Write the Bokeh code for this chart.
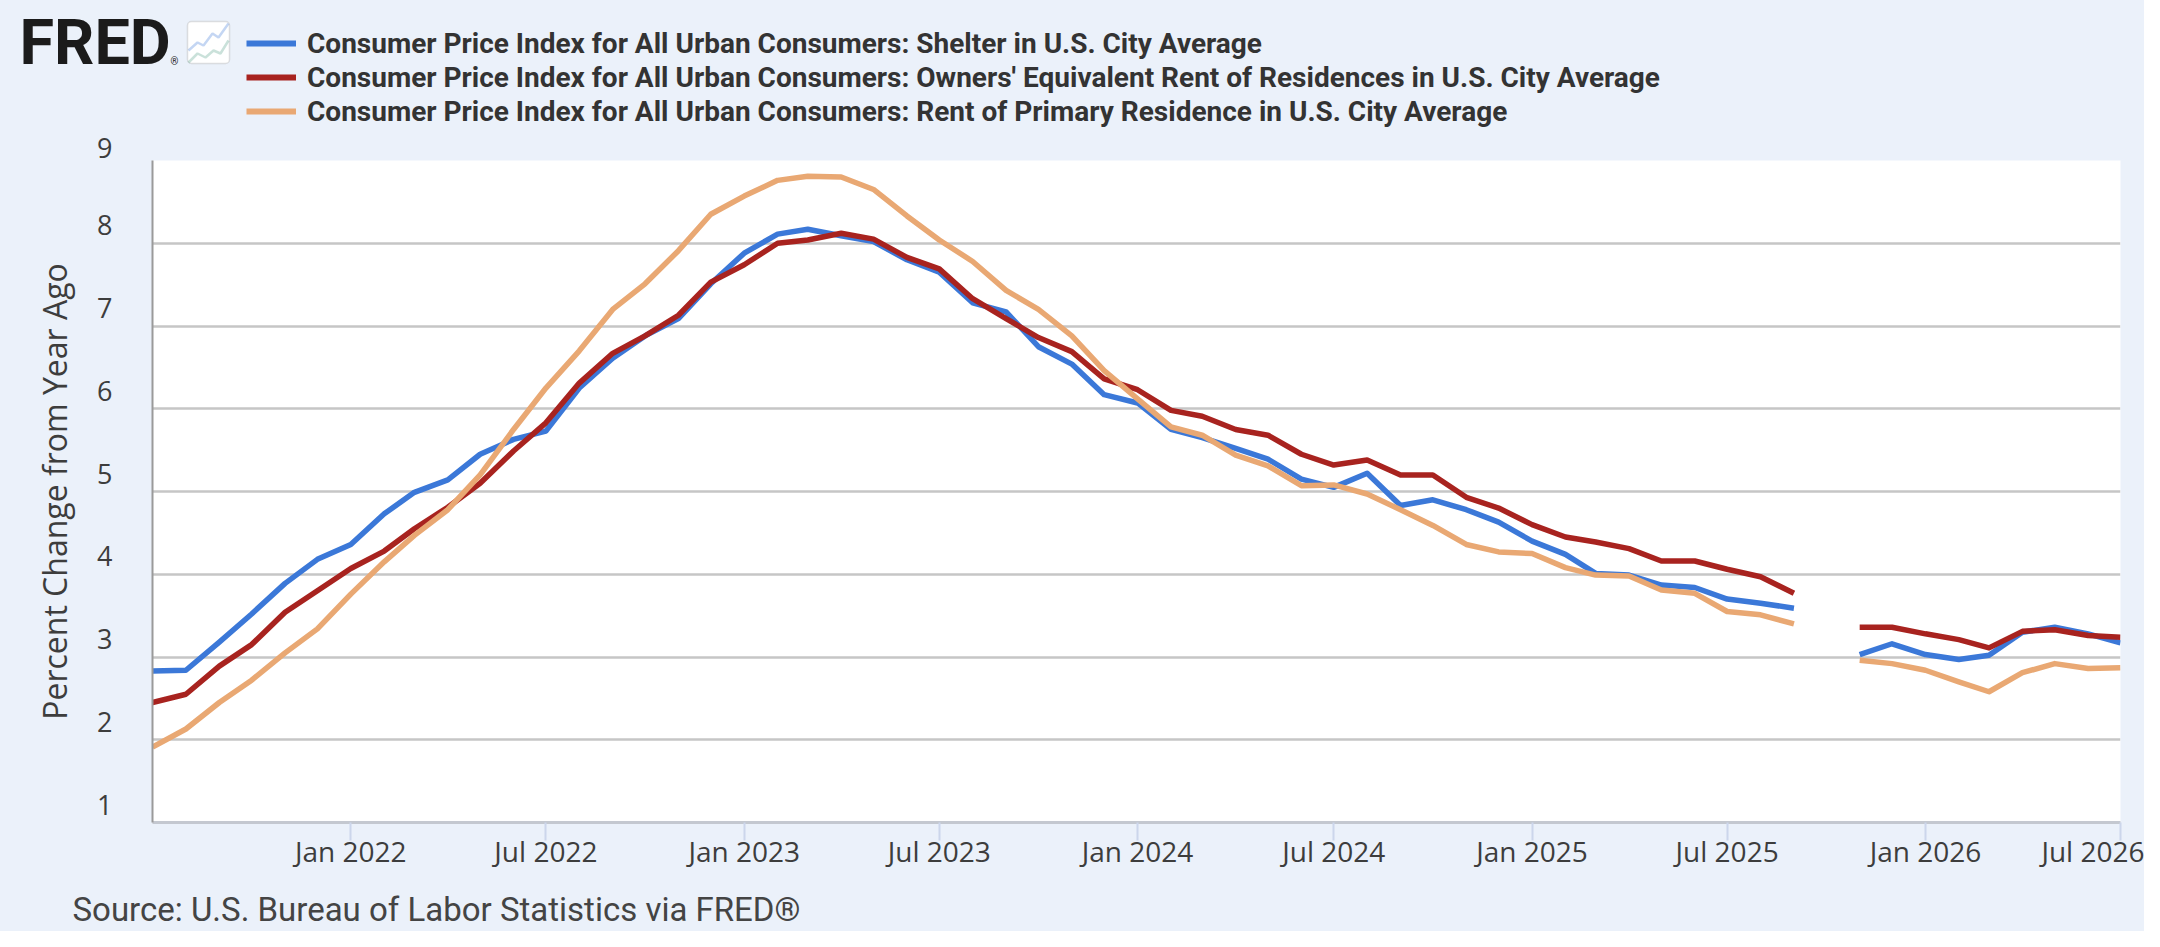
import numpy as np
import pandas as pd
from bokeh.plotting import figure
from bokeh.layouts import column
from bokeh.models import (Range1d, FixedTicker, DatetimeTickFormatter, PrintfTickFormatter,
                          Legend, LegendItem, Label, BoxAnnotation, PolyAnnotation)
from bokeh.embed import file_html
from bokeh.resources import INLINE

# monthly observations, Jul 2021 .. Jul 2026 (Oct 2025 not published -> gap)
months = pd.date_range("2021-07-01", "2026-07-01", freq="MS")
nan = np.nan

shelter = [2.83, 2.84, 3.18, 3.52, 3.89, 4.18, 4.36, 4.73, 4.99, 5.14, 5.45, 5.63,
           5.73, 6.25, 6.61, 6.88, 7.09, 7.51, 7.88, 8.11, 8.17, 8.09, 8.02, 7.80,
           7.65, 7.28, 7.17, 6.75, 6.54, 6.17, 6.07, 5.75, 5.65, 5.52, 5.39, 5.15,
           5.05, 5.22, 4.83, 4.90, 4.78, 4.63, 4.40, 4.24, 4.01, 3.99, 3.87, 3.84,
           3.70, 3.65, 3.59, nan, 3.03, 3.16, 3.03, 2.97, 3.02, 3.30, 3.36, 3.28,
           3.17]
oer = [2.45, 2.55, 2.89, 3.15, 3.54, 3.80, 4.07, 4.28, 4.55, 4.81, 5.10, 5.49,
       5.83, 6.31, 6.67, 6.88, 7.13, 7.53, 7.74, 8.00, 8.04, 8.12, 8.05, 7.83,
       7.69, 7.33, 7.09, 6.86, 6.69, 6.36, 6.23, 5.98, 5.91, 5.75, 5.68, 5.45,
       5.32, 5.38, 5.20, 5.20, 4.93, 4.80, 4.60, 4.45, 4.39, 4.31, 4.16, 4.16,
       4.06, 3.97, 3.77, nan, 3.36, 3.36, 3.28, 3.21, 3.11, 3.31, 3.33, 3.26,
       3.24]
rent = [1.91, 2.13, 2.45, 2.72, 3.05, 3.34, 3.76, 4.15, 4.47, 4.78, 5.20, 5.75,
        6.25, 6.70, 7.20, 7.51, 7.91, 8.35, 8.57, 8.76, 8.81, 8.80, 8.65, 8.33,
        8.04, 7.78, 7.43, 7.20, 6.88, 6.46, 6.12, 5.78, 5.68, 5.44, 5.31, 5.07,
        5.08, 4.97, 4.78, 4.59, 4.36, 4.27, 4.25, 4.08, 3.99, 3.98, 3.81, 3.77,
        3.55, 3.51, 3.40, nan, 2.96, 2.92, 2.84, 2.70, 2.58, 2.81, 2.92, 2.86,
        2.87]

series_names = [
    "Consumer Price Index for All Urban Consumers: Shelter in U.S. City Average",
    "Consumer Price Index for All Urban Consumers: Owners' Equivalent Rent of Residences in U.S. City Average",
    "Consumer Price Index for All Urban Consumers: Rent of Primary Residence in U.S. City Average",
]
series_colors = ["#3b78d8", "#a8231f", "#e9a873"]
series_values = [shelter, oer, rent]

tick_dates = ["2022-01-01", "2022-07-01", "2023-01-01", "2023-07-01", "2024-01-01",
              "2024-07-01", "2025-01-01", "2025-07-01", "2026-01-01", "2026-07-01"]
y_ticks = [1, 2, 3, 4, 5, 6, 7, 8, 9]

BG = "#ebf1fa"
W = 2144


def blank(h):
    # a plain strip whose frame is the whole canvas (pixel-like units)
    f = figure(width=W, height=h, x_range=Range1d(0, W), y_range=Range1d(0, h),
               x_axis_location=None, y_axis_location=None, min_border=0,
               output_backend="svg", toolbar_location=None, frame_align=False,
               background_fill_color=BG, border_fill_color=BG)
    f.outline_line_color = None
    f.grid.visible = False
    return f


# ---- header: logo + legend
head = blank(128)
head.add_layout(Label(x=19, y=86, text="FRED", text_font="Roboto", text_font_style="bold",
                      text_font_size="63px", text_color="#1b1b1b", text_baseline="middle"))
head.add_layout(Label(x=170, y=67, text="®", text_font="Roboto", text_font_size="10px",
                      text_color="#1b1b1b", text_baseline="middle"))
head.add_layout(BoxAnnotation(left=187, right=229, top=107, bottom=65,
                              fill_color="white", fill_alpha=1, line_color="#9a9a9a",
                              line_width=1.5, border_radius=4))
zx1 = [188, 197, 203, 212, 218, 228]
zy1 = [78, 86, 83, 95, 91, 105]
zx2 = [188, 197, 205, 213, 220, 228]
zy2 = [66, 75, 71, 78, 75, 88]
for zx, zy, c in [(zx1, zy1, "#3b78d8"), (zx2, zy2, "#4f9a86")]:
    head.add_layout(PolyAnnotation(xs=zx + zx[::-1], ys=zy + zy[::-1],
                                   fill_alpha=0, line_color=c, line_width=2.5))

# legend swatches: the same series, which fall far outside this strip's range
swatches = [head.line(months, v, line_color=c, line_width=6)
            for v, c in zip(series_values, series_colors)]
legend = Legend(items=[LegendItem(label=n, renderers=[r]) for n, r in zip(series_names, swatches)],
                location=(246, 0), orientation="vertical",
                glyph_width=50, glyph_height=34, label_height=34, label_standoff=11,
                spacing=0, padding=0, margin=0,
                border_line_color=None, background_fill_alpha=0,
                label_text_font="Roboto", label_text_font_style="bold",
                label_text_font_size="28px", label_text_color="#333333")
head.add_layout(legend)

# ---- main chart
p = figure(width=W, height=754, x_axis_type="datetime",
           x_range=Range1d(months[0], months[-1]), y_range=Range1d(1, 9),
           output_backend="svg", toolbar_location=None, frame_align=False,
           min_border_left=152, min_border_right=24, min_border_top=32, min_border_bottom=60,
           background_fill_color="white", border_fill_color=BG)
p.outline_line_color = None

for vals, col in zip(series_values, series_colors):
    p.line(months, vals, line_color=col, line_width=5.5, line_join="round")

tick_ms = [pd.Timestamp(d).value / 1e6 for d in tick_dates]
p.xaxis.ticker = FixedTicker(ticks=tick_ms)
fmt = "%b %Y"
p.xaxis.formatter = DatetimeTickFormatter(days=fmt, months=fmt, years=fmt, hours=fmt,
                                          hourmin=fmt, minutes=fmt, minsec=fmt, seconds=fmt,
                                          milliseconds=fmt, microseconds=fmt)
p.xaxis.major_tick_out = 18
p.xaxis.major_tick_in = 0
p.xaxis.major_tick_line_color = "#ccd6eb"
p.xaxis.major_tick_line_width = 2
p.xaxis.minor_tick_line_color = None
p.xaxis.axis_line_color = "#c4c8d0"
p.xaxis.axis_line_width = 3
p.xaxis.major_label_standoff = -9
p.xaxis.major_label_text_font = "Open Sans"
p.xaxis.major_label_text_font_size = "28px"
p.xaxis.major_label_text_color = "#3d3d3d"

p.yaxis.ticker = FixedTicker(ticks=y_ticks)
# trailing blank line lifts each label a little above its grid line, as on FRED
p.yaxis.formatter = PrintfTickFormatter(format="%d\n")
p.yaxis.major_label_text_line_height = 1.0
p.yaxis.major_tick_line_color = None
p.yaxis.minor_tick_line_color = None
p.yaxis.axis_line_color = "#9a9a9a"
p.yaxis.axis_line_width = 2
p.yaxis.major_label_standoff = 34
p.yaxis.major_label_text_font = "Open Sans"
p.yaxis.major_label_text_font_size = "27px"
p.yaxis.major_label_text_color = "#3d3d3d"
p.yaxis.axis_label = "Percent Change from Year Ago"
p.yaxis.axis_label_text_font = "Open Sans"
p.yaxis.axis_label_text_font_style = "normal"
p.yaxis.axis_label_text_font_size = "32px"
p.yaxis.axis_label_text_color = "#3d3d3d"
p.yaxis.axis_label_standoff = 18

p.xgrid.grid_line_color = None
p.ygrid.grid_line_color = "#c6c6c6"
p.ygrid.grid_line_width = 2.5

# ---- footer: source note
foot = blank(49)
foot.add_layout(Label(x=72, y=22, text="Source: U.S. Bureau of Labor Statistics via FRED®",
                      text_font="Roboto", text_font_size="33px", text_color="#444444",
                      text_baseline="middle"))

layout = column(head, p, foot, spacing=0, styles={"background-color": BG})
open("out.html", "w").write(file_html(layout, INLINE))
